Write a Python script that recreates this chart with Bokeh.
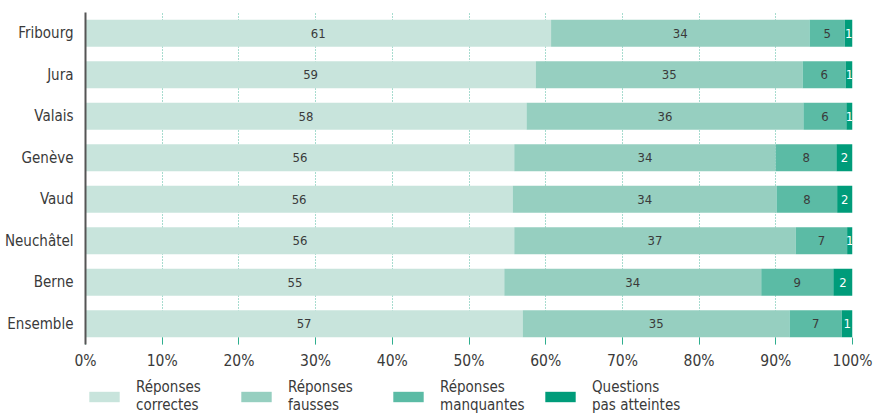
import numpy as np
from bokeh.plotting import figure
from bokeh.layouts import column
from bokeh.models import Range1d, FactorRange, ColumnDataSource, Legend, LegendItem, PrintfTickFormatter, FixedTicker
from bokeh.core.properties import value
from bokeh.embed import file_html
from bokeh.resources import INLINE

cantons = ["Fribourg", "Jura", "Valais", "Genève", "Vaud", "Neuchâtel", "Berne", "Ensemble"]
correctes = [60.7, 58.7, 57.5, 55.9, 55.7, 55.9, 54.6, 57.0]
fausses = [33.7, 34.8, 36.1, 34.1, 34.4, 36.7, 33.5, 34.8]
manquantes = [4.6, 5.6, 5.6, 7.9, 7.9, 6.7, 9.4, 6.8]
pas_atteintes = [1.0, 1.0, 0.8, 2.1, 2.0, 0.7, 2.5, 1.4]
labels_correctes = [61, 59, 58, 56, 56, 56, 55, 57]
labels_fausses = [34, 35, 36, 34, 34, 37, 34, 35]
labels_manquantes = [5, 6, 6, 8, 8, 7, 9, 7]
labels_pas = [1, 1, 1, 2, 2, 1, 2, 1]
series_names = ["Réponses\ncorrectes", "Réponses\nfausses", "Réponses\nmanquantes", "Questions\npas atteintes"]
colors = ["#c8e4dc", "#96cfc0", "#5bbba5", "#009c7a"]
x_ticks = [0, 10, 20, 30, 40, 50, 60, 70, 80, 90, 100]

FONT = "DejaVu Sans Condensed"
TXT = "#3a3a3a"

keys = ["c", "f", "m", "p"]
src = ColumnDataSource(dict(cat=cantons, c=correctes, f=fausses, m=manquantes, p=pas_atteintes))

p = figure(frame_width=767, frame_height=332, output_backend="svg", toolbar_location=None,
           y_range=FactorRange(*reversed(cantons), range_padding=0),
           x_range=Range1d(0, 100),
           min_border_left=85, min_border_right=25, min_border_top=12, min_border_bottom=34)
p.outline_line_color = None

p.hbar_stack(keys, y="cat", height=0.65, color=colors, source=src, line_color=None)

# value labels
vals = [correctes, fausses, manquantes, pas_atteintes]
labs = [labels_correctes, labels_fausses, labels_manquantes, labels_pas]
cum = np.zeros(len(cantons))
for i, (v, l) in enumerate(zip(vals, labs)):
    v = np.array(v)
    centers = cum + v / 2
    cum = cum + v
    p.text(x=list(centers), y=cantons, text=[str(t) for t in l],
           text_font=value(FONT), text_font_size="13px",
           text_color="white" if i == 3 else TXT,
           text_align="center", text_baseline="middle")

# axes
p.xaxis.ticker = FixedTicker(ticks=x_ticks)
p.xaxis.formatter = PrintfTickFormatter(format="%d%%")
p.xaxis.axis_line_color = None
p.xaxis.major_tick_in = 7
p.xaxis.major_tick_out = 0
p.xaxis.major_tick_line_color = "#2fae8e"
p.xaxis.major_tick_line_width = 1
p.xaxis.minor_tick_line_color = None
p.xaxis.major_label_text_font = FONT
p.xaxis.major_label_text_font_size = "15.5px"
p.xaxis.major_label_text_color = TXT
p.xaxis.major_label_standoff = 7

p.yaxis.axis_line_color = "#555555"
p.yaxis.axis_line_width = 2
p.yaxis.major_tick_in = 0
p.yaxis.major_tick_out = 0
p.yaxis.major_tick_line_color = None
p.yaxis.minor_tick_line_color = None
p.yaxis.major_label_text_font = FONT
p.yaxis.major_label_text_font_size = "15px"
p.yaxis.major_label_text_color = TXT
p.yaxis.major_label_standoff = 12

p.xgrid.grid_line_color = "#4fb89e"
p.xgrid.grid_line_dash = "1 2"
p.xgrid.grid_line_width = 1
p.ygrid.grid_line_color = None

# legend strip: same stacked bars, hidden; only their legend entries show
lg = figure(width=877, height=36, output_backend="svg", toolbar_location=None,
            x_range=Range1d(0, 100), y_range=FactorRange(*cantons),
            min_border_left=85, min_border_right=0, min_border_top=0, min_border_bottom=0)
lg.outline_line_color = None
lg.axis.visible = False
lg.grid.visible = False
swatches = lg.hbar_stack(keys, y="cat", height=0.65, color=colors, source=src, line_color=None)
for r in swatches:
    r.visible = False
legend = Legend(items=[LegendItem(label=n, renderers=[r]) for n, r in zip(series_names, swatches)],
                orientation="horizontal", location="top_left",
                glyph_width=38, glyph_height=13, label_standoff=13, label_width=101,
                spacing=0, padding=0, margin=0, border_line_color=None,
                background_fill_alpha=0, inactive_fill_alpha=0,
                label_text_font=FONT, label_text_font_size="15px", label_text_color=TXT,
                label_text_line_height=1.0)
lg.add_layout(legend, "center")

layout = column(p, lg, spacing=0)
open("out.html", "w").write(file_html(layout, INLINE))
